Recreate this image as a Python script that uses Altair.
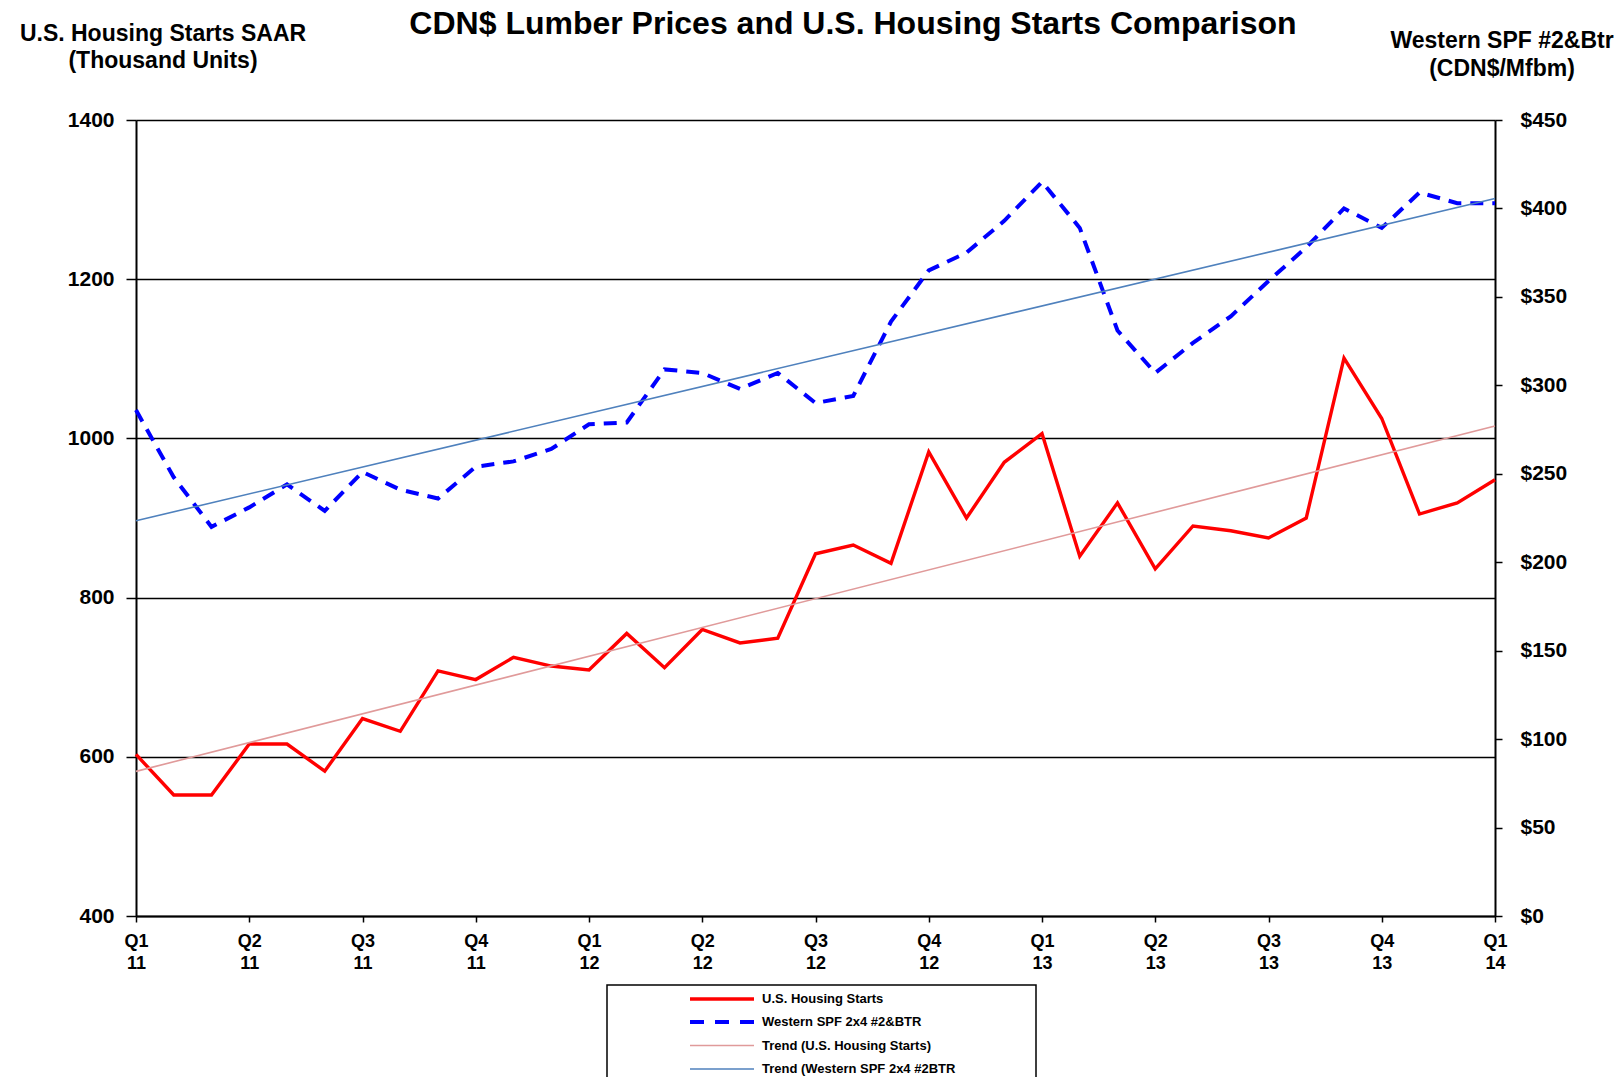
import json
import altair as alt
import pandas as pd

# ---- data (monthly, Jan 2011 .. Jan 2014) ----
month_index = list(range(37))
housing_starts = [603, 552, 552, 616, 616, 582, 648, 632, 708, 697, 725, 714,
                  709, 755, 712, 760, 743, 749, 855, 866, 843, 983, 900, 970,
                  1006, 852, 919, 836, 890, 884, 875, 900, 1101, 1025, 905, 919,
                  948]
lumber_price = [286, 248, 220, 231, 244, 229, 251, 241, 236, 254, 257, 264,
                278, 279, 309, 307, 298, 307, 290, 294, 336, 365, 375, 393,
                415, 389, 331, 307, 324, 339, 359, 378, 400, 389, 409, 403,
                403]
quarter_labels = ["Q1", "Q2", "Q3", "Q4"]
year_labels = ["11", "12", "13", "14"]
left_ticks = [400, 600, 800, 1000, 1200, 1400]
right_ticks = [0, 50, 100, 150, 200, 250, 300, 350, 400, 450]
legend_labels = ["U.S. Housing Starts", "Western SPF 2x4 #2&BTR",
                 "Trend (U.S. Housing Starts)", "Trend (Western SPF 2x4 #2BTR"]

df = pd.DataFrame({"m": month_index, "housing": housing_starts, "lumber": lumber_price})
one = pd.DataFrame({"k": [0]})

FONT = "Liberation Sans"
RED = "#ff0000"
BLUE = "#0000ff"
RED_TREND = "#e09a9a"
BLUE_TREND = "#4f81bd"

W, H = 1359, 796

label_expr = "[{q}[(datum.value/3)%4], {y}[floor(datum.value/12)]]".format(
    q=json.dumps(quarter_labels).replace('"', "'"),
    y=json.dumps(year_labels).replace('"', "'"))

x_enc = alt.X("m:Q", scale=alt.Scale(domain=[0, 36], nice=False, zero=False),
              axis=alt.Axis(values=list(range(0, 37, 3)), labelExpr=label_expr,
                            title=None, grid=False, labelFont=FONT, labelFontSize=18,
                            labelFontWeight="bold", labelColor="black",
                            labelLineHeight=22, labelPadding=10, tickSize=6,
                            tickColor="black", tickWidth=1.5, domainColor="black",
                            domainWidth=2, labelAngle=0, labelFlush=False,
                            labelAlign="center", labelOverlap=False))

left_axis = alt.Axis(values=left_ticks, format="d", title=None, grid=True,
                     gridColor="black", gridWidth=1.5, gridOpacity=1, labelFont=FONT,
                     labelFontSize=21, labelFontWeight="bold", labelColor="black",
                     tickSize=10, tickColor="black", tickWidth=1.5, labelPadding=12,
                     domainColor="black", domainWidth=2, labelFlush=False)
right_axis = alt.Axis(orient="right", values=right_ticks, title=None, grid=False,
                      labelExpr="'$' + datum.value", labelFont=FONT, labelFontSize=21,
                      labelFontWeight="bold", labelColor="black", tickSize=7,
                      tickColor="black", tickWidth=1.5, labelPadding=18,
                      domainColor="black", domainWidth=2, labelFlush=False)
y_left = alt.Y("housing:Q", scale=alt.Scale(domain=[400, 1400], nice=False, zero=False),
               axis=left_axis)
y_right = alt.Y("lumber:Q", scale=alt.Scale(domain=[0, 450], nice=False, zero=False),
                axis=right_axis)

base = alt.Chart(df)

red_line = base.mark_line(color=RED, strokeWidth=3.4).encode(x=x_enc, y=y_left)
red_trend = base.transform_regression("m", "housing", extent=[0, 36]).mark_line(
    color=RED_TREND, strokeWidth=1.6).encode(x=x_enc, y=y_left)

blue_line = base.mark_line(color=BLUE, strokeWidth=4, strokeDash=[13, 9]).encode(
    x=x_enc, y=y_right)
blue_trend = base.transform_regression("m", "lumber", extent=[0, 36]).mark_line(
    color=BLUE_TREND, strokeWidth=1.6).encode(x=x_enc, y=y_right)

left_layer = alt.layer(red_line, red_trend)
right_layer = alt.layer(blue_line, blue_trend)


def txt(s, x, y, size, align="center"):
    return alt.Chart(one).mark_text(text=s, font=FONT, fontSize=size, fontWeight="bold",
                                    color="black", align=align, baseline="middle").encode(
        x=alt.value(x), y=alt.value(y))


titles = [
    txt("CDN$ Lumber Prices and U.S. Housing Starts Comparison", 717, -96, 32),
    txt("U.S. Housing Starts SAAR", 27, -86, 23),
    txt("(Thousand Units)", 27, -59, 23),
    txt("Western SPF #2&Btr", 1366, -79, 23),
    txt("(CDN$/Mfbm)", 1366, -51, 23),
]

# ---- legend box ----
legend_box = alt.Chart(one).mark_rect(fill="white", stroke="black", strokeWidth=1.5).encode(
    x=alt.value(471), x2=alt.value(900), y=alt.value(865), y2=alt.value(990))
legend_rows_y = [879, 902, 925.5, 949]
legend_styles = [
    dict(color=RED, strokeWidth=3.5),
    dict(color=BLUE, strokeWidth=4, strokeDash=[14, 11]),
    dict(color=RED_TREND, strokeWidth=1.6),
    dict(color=BLUE_TREND, strokeWidth=1.6),
]
legend_layers = [legend_box]
for lab, yy, st in zip(legend_labels, legend_rows_y, legend_styles):
    legend_layers.append(alt.Chart(one).mark_rule(**st).encode(
        x=alt.value(554), x2=alt.value(618), y=alt.value(yy)))
    legend_layers.append(txt(lab, 626, yy, 13, align="left"))

chart = alt.layer(left_layer, right_layer, *titles, *legend_layers).resolve_scale(
    y="independent"
).properties(
    width=W, height=H,
    autosize=alt.AutoSizeParams(type="none"),
    padding={"left": 128, "top": 112, "right": 121, "bottom": 161},
).configure_view(stroke="black", strokeWidth=1.5).configure(background="white")

chart.save("out.html", embed_options={"renderer": "svg", "actions": False})
